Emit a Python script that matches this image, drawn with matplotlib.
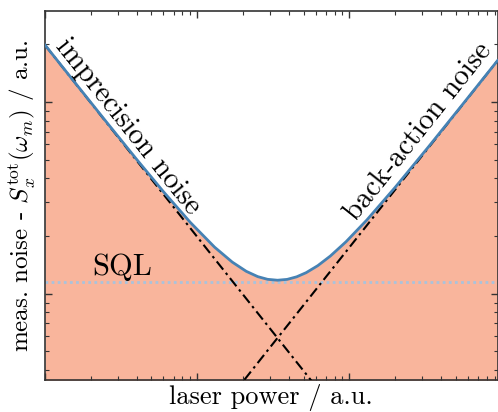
import numpy as np
import matplotlib
matplotlib.use("Agg")
import matplotlib.pyplot as plt

# ─── data (arbitrary units) ─────────────────────────────────────
laser_power = [1, 1.5, 2.5, 4, 6, 9, 13, 17, 21, 25, 29, 33.7, 39, 45,
               52, 62, 75, 95, 130, 200, 330, 550, 940]
imprecision = [19.8, 13.2, 7.92, 4.95, 3.30, 2.20, 1.523, 1.165, 0.943,
               0.792, 0.683, 0.588, 0.508, 0.440, 0.381, 0.319, 0.264,
               0.208, 0.152, 0.099, 0.060, 0.036, 0.0211]
back_action = [0.0174, 0.0262, 0.0436, 0.0698, 0.1047, 0.157, 0.227,
               0.297, 0.366, 0.436, 0.506, 0.588, 0.680, 0.785, 0.907,
               1.082, 1.309, 1.658, 2.268, 3.490, 5.758, 9.596, 16.40]
sql_level = 1.15

x_lim = (1, 940)
y_lim = (0.355, 29.8)

# ─── style ───────────────────────────────────────────────────────
plt.rcParams["font.family"] = "serif"
plt.rcParams["font.serif"] = ["cmr10"]
plt.rcParams["mathtext.fontset"] = "cm"
plt.rcParams["axes.unicode_minus"] = False

FILL_COL = "#f9b59c"
LINE_COL = "#4682b4"
SQL_COL = "#a9c3dc"

power = np.array(laser_power)
imp = np.array(imprecision)
ba = np.array(back_action)
total = imp + ba

fig = plt.figure(figsize=(4.98, 4.12), dpi=100)
ax = fig.add_axes([45 / 498, 1 - 380 / 412, 452.5 / 498, 369 / 412])

ax.fill_between(power, y_lim[0] * 0.5, total, color=FILL_COL, lw=0, zorder=1)
ax.axhline(sql_level, color=SQL_COL, ls=(0, (1, 1.2)), lw=2.0, zorder=2)
ax.plot(power, imp, color="k", ls=(0, (5, 2, 1.2, 2)), lw=1.5, zorder=3)
ax.plot(power, ba, color="k", ls=(0, (5, 2, 1.2, 2)), lw=1.5, zorder=3)
ax.plot(power, total, color=LINE_COL, lw=2.0, zorder=4)

ax.set_xscale("log")
ax.set_yscale("log")
ax.set_xlim(*x_lim)
ax.set_ylim(*y_lim)

ax.tick_params(which="both", direction="in", top=True, right=True,
               labelbottom=False, labelleft=False, color="#333333")
ax.tick_params(which="major", length=5, width=1)
ax.tick_params(which="minor", length=3, width=0.8)
for s in ax.spines.values():
    s.set_color("#333333")
    s.set_linewidth(1.2)

ax.text(3.52, 7.4, "imprecision noise", fontsize=21, rotation=-51.5,
        ha="center", va="center", rotation_mode="anchor", zorder=5)
ax.text(284, 7.0, "back-action noise", fontsize=21, rotation=51.5,
        ha="center", va="center", rotation_mode="anchor", zorder=5)
ax.text(3.21, 1.38, "SQL", fontsize=22, ha="center", va="center", zorder=5)

ax.set_xlabel("laser power / a.u.", fontsize=19, labelpad=3)
ax.set_ylabel(r"meas. noise - $S_x^{\rm tot}(\omega_m)$ / a.u.", fontsize=18,
              labelpad=6)

fig.savefig("out.png", dpi=100)
